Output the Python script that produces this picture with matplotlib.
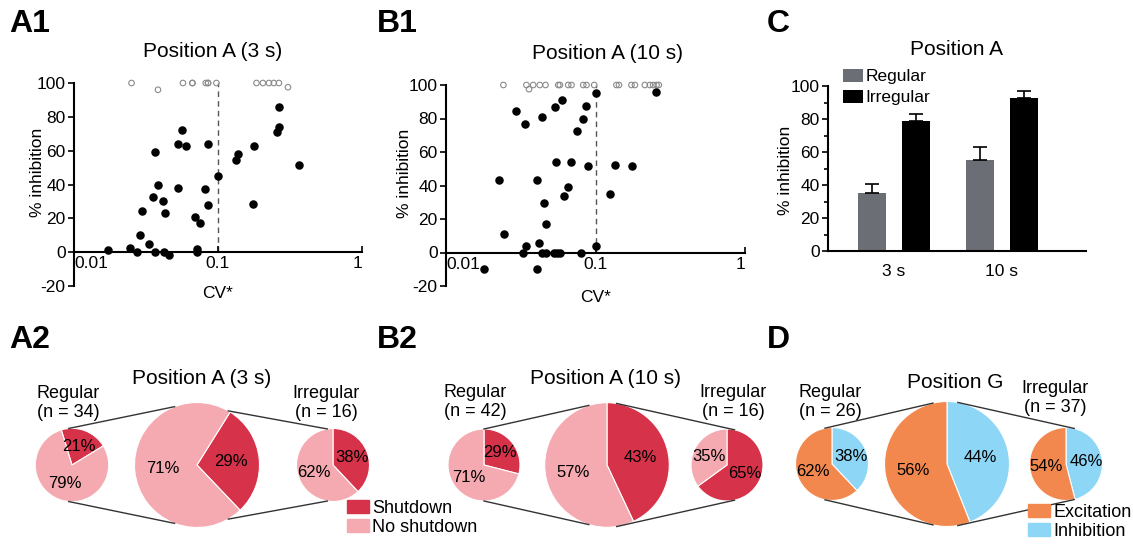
import numpy as np
import matplotlib.pyplot as plt
from matplotlib.patches import Patch
from matplotlib.ticker import NullLocator, MultipleLocator

plt.rcParams['font.family'] = ['Liberation Sans', 'DejaVu Sans']
plt.rcParams['axes.unicode_minus'] = False

W, H = 1133, 545

# ---- A1: Position A (3 s) ----
a1_cv = [0.0171, 0.0246, 0.0274, 0.0286, 0.0295, 0.0334, 0.0354, 0.0363, 0.0363, 0.0385,
         0.0413, 0.0425, 0.0431, 0.046, 0.0526, 0.0526, 0.0566, 0.0601, 0.0687, 0.071,
         0.071, 0.0745, 0.0811, 0.0857, 0.0857, 0.1, 0.133, 0.137, 0.175, 0.177,
         0.255, 0.265, 0.266, 0.365]
a1_inh = [1.4, 2.4, 0, 10, 24.5, 5, 32.5, 0, 59, 40,
          30, 0, 23, -1.5, 64, 37.7, 72.4, 63, 20.7, 1.8,
          0, 17.5, 37.3, 64, 27.8, 45, 54.4, 58, 28.6, 63,
          70.8, 74, 86, 51.7]
a1_cv_top = [0.0251, 0.0383, 0.0571, 0.0664, 0.0664, 0.0822, 0.0853, 0.0853, 0.0975,
             0.185, 0.205, 0.226, 0.244, 0.265, 0.306]
a1_inh_top = [100, 96, 100, 100, 100, 100, 100, 100, 100,
              100, 100, 100, 100, 100, 97.5]

# ---- B1: Position A (10 s) ----
b1_cv = [0.018, 0.0227, 0.0246, 0.0296, 0.0328, 0.0338, 0.0343, 0.0407, 0.0407, 0.0419,
         0.0436, 0.0438, 0.045, 0.0464, 0.0464, 0.0533, 0.0525, 0.0544, 0.0555, 0.058,
         0.0597, 0.0612, 0.0651, 0.0689, 0.0747, 0.0802, 0.0823, 0.0858, 0.089, 0.1,
         0.1, 0.125, 0.135, 0.175, 0.255]
b1_inh = [-9.6, 43.2, 10.8, 84.7, 0, 76.7, 4, 43.2, -9.6, 5.4,
          80.7, 0, 29.3, 0, 17, 86.7, 0, 53.8, 0, 0,
          91, 33.9, 39.2, 54.2, 72.7, 0, 80, 87.4, 51.8, 95.2,
          4, 34.9, 52.2, 51.8, 96]
b1_cv_top = [0.0242, 0.0345, 0.0359, 0.0383, 0.0424, 0.0463, 0.0563, 0.0578, 0.0657,
             0.0691, 0.0828, 0.0871, 0.098, 0.138, 0.1435, 0.174, 0.1836, 0.2138,
             0.231, 0.243, 0.256, 0.265]
b1_inh_top = [100, 100, 97.5, 100, 100, 100, 100, 100, 100,
              100, 100, 100, 100, 100, 100, 100, 100, 100,
              100, 100, 100, 100]

# ---- C: Position A bars ----
c_groups = ['3 s', '10 s']
c_regular = [35.2, 54.9]
c_regular_err = [5.7, 8.3]
c_irregular = [78.7, 92.5]
c_irregular_err = [4.5, 4.7]

# ---- pies (percent) ----
a2_regular = [21, 79]       # shutdown, no shutdown
a2_all = [29, 71]
a2_irregular = [38, 62]
b2_regular = [29, 71]
b2_all = [43, 57]
b2_irregular = [65, 35]
d_regular = [38, 62]        # inhibition, excitation
d_all = [44, 56]
d_irregular = [46, 54]

red_dark = '#d6334b'
red_light = '#f4aab0'
orange = '#f3884f'
blue = '#8ed6f5'
reg_grey = '#6c6e75'


def box(l, t, w, h):
    return [l / W, 1 - (t + h) / H, w / W, h / H]


fig = plt.figure(figsize=(W / 100, H / 100), dpi=100)


def scatter_panel(rect, cv, inh, cv_top, inh_top, title, tx, ylab_x, xlab_y):
    ax = fig.add_axes(rect)
    ax.set_xscale('log')
    ax.set_xlim(0.01, 1)
    ax.set_ylim(-20, 100)
    ax.plot([0.1, 0.1], [0, 100], color='#555555', lw=1, ls=(0, (4, 3)), zorder=1)
    ax.scatter(cv_top, inh_top, s=16, facecolors='none', edgecolors='#8a8a8a',
               linewidths=0.8, zorder=2, clip_on=False)
    ax.scatter(cv, inh, s=26, color='black', zorder=3, clip_on=False)
    ax.spines[['top', 'right']].set_visible(False)
    ax.spines['bottom'].set_position(('data', 0))
    ax.spines['left'].set_linewidth(1.5)
    ax.spines['bottom'].set_linewidth(1.5)
    ax.set_yticks([-20, 0, 20, 40, 60, 80, 100])
    ax.set_xticks([0.01, 0.1, 1])
    ax.set_xticklabels(['0.01', '0.1', '1'])
    ax.xaxis.set_minor_locator(NullLocator())
    labs = ax.get_xticklabels()
    labs[0].set_ha('left')
    labs[2].set_ha('right')
    ax.tick_params(axis='x', direction='in', length=4, width=1.2, pad=3, labelsize=12.5)
    ax.tick_params(axis='y', direction='out', length=4, width=1.2, pad=2, labelsize=12.5)
    ax.set_xlabel('CV*', fontsize=12.5)
    ax.xaxis.set_label_coords(0.5, xlab_y)
    ax.set_ylabel('% inhibition', fontsize=12.5)
    ax.yaxis.set_label_coords(ylab_x, 0.56)
    ax.set_title(title, fontsize=15, x=tx, pad=19)
    return ax


scatter_panel(box(74, 83, 288, 203), a1_cv, a1_inh, a1_cv_top, a1_inh_top,
              'Position A (3 s)', 0.48, -0.10, 0.0)
scatter_panel(box(446, 85, 299, 201), b1_cv, b1_inh, b1_cv_top, b1_inh_top,
              'Position A (10 s)', 0.54, -0.115, -0.02)

# ---- C ----
axc = fig.add_axes(box(828, 86, 258, 165))
x = np.arange(len(c_groups))
bw = 0.26
axc.bar(x - 0.204, c_regular, bw, color=reg_grey, label='Regular',
        yerr=[[0, 0], c_regular_err], capsize=5, error_kw=dict(lw=1.2, capthick=1.2))
axc.bar(x + 0.204, c_irregular, bw, color='black', label='Irregular',
        yerr=[[0, 0], c_irregular_err], capsize=5, error_kw=dict(lw=1.2, capthick=1.2))
axc.set_xlim(-0.61, 1.78)
axc.set_ylim(0, 100)
axc.set_xticks(x)
axc.set_xticklabels(c_groups)
axc.yaxis.set_major_locator(MultipleLocator(20))
axc.yaxis.set_minor_locator(MultipleLocator(10))
axc.spines[['top', 'right']].set_visible(False)
axc.spines['left'].set_linewidth(1.5)
axc.spines['bottom'].set_linewidth(1.5)
axc.tick_params(axis='x', length=0, pad=9, labelsize=12.5)
axc.tick_params(axis='y', which='major', length=4, width=1.2, pad=2, labelsize=12.5)
axc.tick_params(axis='y', which='minor', length=3, width=1.2)
axc.set_ylabel('% inhibition', fontsize=12.5)
axc.yaxis.set_label_coords(-0.136, 0.49)
axc.set_title('Position A', fontsize=15, pad=22)
axc.legend(loc='upper left', bbox_to_anchor=(0.06, 1.105), frameon=False, fontsize=12.5,
           handlelength=1.1, handleheight=0.8, handletextpad=0.15, labelspacing=0.3,
           borderpad=0, borderaxespad=0)

# ---- panel letters ----
for lab, lx, ly in [('A1', 9, 24), ('B1', 377, 24), ('C', 767, 24),
                    ('A2', 9, 340), ('B2', 377, 340), ('D', 767, 340)]:
    fig.text(lx / W, 1 - ly / H, lab, fontsize=23, fontweight='bold', va='center')

# ---- pies ----
ov = fig.add_axes([0, 0, 1, 1])
ov.patch.set_alpha(0)

panels = [
    dict(vals=[a2_regular, a2_all, a2_irregular], starts=[107, 58, 90],
         colors=[red_dark, red_light], cx=[72, 197, 333], cy=465, r=[36.7, 62.5, 36.5],
         ang=(95, 111, 60, 99), title='Position A (3 s)', tpos=(202, 378),
         reg=('Regular\n(n = 34)', 68, 403), irr=('Irregular\n(n = 16)', 326, 403)),
    dict(vals=[b2_regular, b2_all, b2_irregular], starts=[90, 90, 90],
         colors=[red_dark, red_light], cx=[484, 607, 727], cy=465, r=[36, 62.3, 36],
         ang=(90, 107, 81, 78), title='Position A (10 s)', tpos=(605, 378),
         reg=('Regular\n(n = 42)', 475, 402), irr=('Irregular\n(n = 16)', 733, 402)),
    dict(vals=[d_regular, d_all, d_irregular], starts=[90, 90, 90],
         colors=[blue, orange], cx=[832, 947, 1066], cy=464, r=[36.5, 62.5, 36.5],
         ang=(101, 103, 80, 77), title='Position G', tpos=(955, 382),
         reg=('Regular\n(n = 26)', 830, 402), irr=('Irregular\n(n = 37)', 1055, 398)),
]

for p in panels:
    cy = H - p['cy']
    for vals, st, cx, r in zip(p['vals'], p['starts'], p['cx'], p['r']):
        ov.pie(vals, colors=p['colors'], startangle=st, counterclock=False,
               center=(cx, cy), radius=r, autopct='%.0f%%', pctdistance=0.55,
               wedgeprops=dict(edgecolor='white', linewidth=0.8),
               textprops=dict(fontsize=12), frame=True)
    s1, b1, b2, s2 = [np.deg2rad(a) for a in p['ang']]
    (c0, c1, c2), (r0, r1, r2) = p['cx'], p['r']
    for sgn in (1, -1):
        ov.plot([c0 + r0 * np.cos(s1), c1 + r1 * np.cos(b1)],
                [cy + sgn * r0 * np.sin(s1), cy + sgn * r1 * np.sin(b1)],
                color='#333333', lw=1)
        ov.plot([c1 + r1 * np.cos(b2), c2 + r2 * np.cos(s2)],
                [cy + sgn * r1 * np.sin(b2), cy + sgn * r2 * np.sin(s2)],
                color='#333333', lw=1)
    ov.text(p['tpos'][0], H - p['tpos'][1], p['title'], fontsize=15, ha='center', va='center')
    for txt, tx, ty in (p['reg'], p['irr']):
        ov.text(tx, H - ty, txt, fontsize=13, ha='center', va='center', linespacing=1.1)

ov.set_xlim(0, W)
ov.set_ylim(0, H)
ov.axis('off')

leg_kw = dict(loc='upper left', frameon=False, fontsize=13, handlelength=1.2,
              handleheight=0.75, handletextpad=0.2, labelspacing=0.1,
              borderpad=0, borderaxespad=0)
fig.legend([Patch(color=red_dark), Patch(color=red_light)], ['Shutdown', 'No shutdown'],
           bbox_to_anchor=(347 / W, 1 - 500 / H), **leg_kw)
fig.legend([Patch(color=orange), Patch(color=blue)], ['Excitation', 'Inhibition'],
           bbox_to_anchor=(1028 / W, 1 - 504 / H), **leg_kw)

fig.savefig('out.png', dpi=100)
